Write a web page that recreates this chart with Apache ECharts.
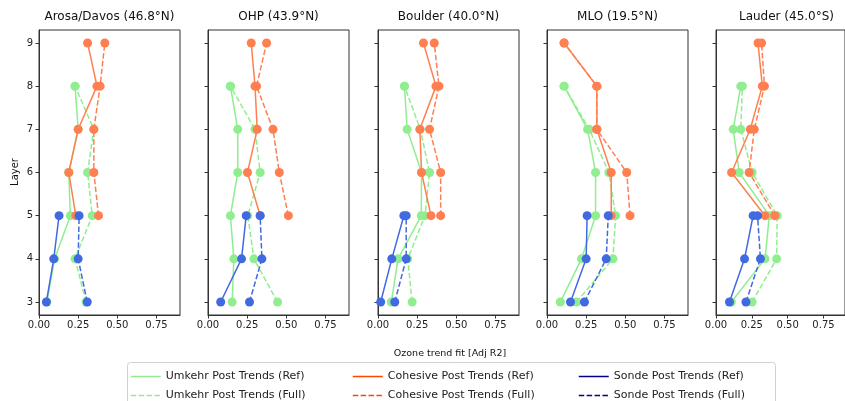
<!DOCTYPE html>
<html><head><meta charset="utf-8">
<script src="https://cdn.jsdelivr.net/npm/echarts@6/dist/echarts.min.js"></script>
<style>html,body{margin:0;padding:0;background:#fff}#c{width:845px;height:401px}</style>
</head><body><div id="c"></div>
<script>
const stations = ["Arosa/Davos (46.8°N)", "OHP (43.9°N)", "Boulder (40.0°N)", "MLO (19.5°N)", "Lauder (45.0°S)"];
const umkLayers = [3, 4, 5, 6, 7, 8];
const cohLayers = [5, 6, 7, 8, 9];
const sonLayers = [3, 4, 5];
const xTicks = [0, 0.25, 0.5, 0.75];
const yTicks = [3, 4, 5, 6, 7, 8, 9];

const umkRef = [
  [0.05, 0.10, 0.20, 0.19, 0.25, 0.23],
  [0.154, 0.165, 0.143, 0.19, 0.19, 0.143],
  [0.085, 0.128, 0.276, 0.278, 0.186, 0.169],
  [0.085, 0.22, 0.31, 0.31, 0.259, 0.109],
  [0.107, 0.342, 0.372, 0.162, 0.12, 0.173]
];
const umkFull = [
  [0.30, 0.23, 0.34, 0.31, 0.35, 0.23],
  [0.444, 0.293, 0.254, 0.333, 0.30, 0.143],
  [0.218, 0.19, 0.30, 0.329, 0.27, 0.169],
  [0.188, 0.421, 0.438, 0.395, 0.27, 0.109],
  [0.252, 0.423, 0.427, 0.252, 0.173, 0.184]
];
const cohRef = [
  [0.235, 0.19, 0.25, 0.37, 0.31],
  [0.333, 0.252, 0.314, 0.30, 0.276],
  [0.338, 0.278, 0.267, 0.37, 0.29],
  [0.41, 0.41, 0.318, 0.318, 0.109],
  [0.342, 0.109, 0.239, 0.323, 0.293]
];
const cohFull = [
  [0.38, 0.35, 0.35, 0.39, 0.42],
  [0.513, 0.455, 0.415, 0.31, 0.374],
  [0.40, 0.40, 0.329, 0.389, 0.359],
  [0.53, 0.509, 0.318, 0.318, 0.109],
  [0.41, 0.231, 0.267, 0.338, 0.318]
];
const sonRef = [
  [0.047, 0.094, 0.128],
  [0.081, 0.214, 0.244],
  [0.017, 0.088, 0.165],
  [0.15, 0.25, 0.256],
  [0.094, 0.199, 0.259]
];
const sonFull = [
  [0.308, 0.25, 0.256],
  [0.265, 0.344, 0.333],
  [0.107, 0.18, 0.18],
  [0.239, 0.378, 0.391],
  [0.209, 0.31, 0.29]
];
const seriesNames = ["Umkehr Post Trends (Ref)", "Umkehr Post Trends (Full)", "Cohesive Post Trends (Ref)", "Cohesive Post Trends (Full)", "Sonde Post Trends (Ref)", "Sonde Post Trends (Full)"];

const FONT = "DejaVu Sans";
const gridLefts = [39, 208, 378, 547, 716];
const GW = 141, GT = 30, GH = 285;
const plotColors = ["#90EE90", "#90EE90", "#FF7F50", "#FF7F50", "#4169E1", "#4169E1"];
const legendColors = ["#90EE90", "#90EE90", "#FF4500", "#FF4500", "#00008B", "#00008B"];

const grids = [], xAxes = [], yAxes = [], series = [], graphics = [];
stations.forEach((st, i) => {
  grids.push({left: gridLefts[i], top: GT, width: GW, height: GH, show: true, borderColor: "#333", borderWidth: 1, backgroundColor: "transparent"});
  xAxes.push({type: "value", gridIndex: i, min: 0, max: 0.9,
    axisLine: {show: true, onZero: false, lineStyle: {color: "#333"}},
    axisTick: {show: true, length: 3.5, lineStyle: {color: "#333"}, customValues: xTicks},
    axisLabel: {color: "#222", fontFamily: FONT, fontSize: 10, margin: 5, customValues: xTicks,
      formatter: v => v.toFixed(2)},
    splitLine: {show: false}});
  yAxes.push({type: "value", gridIndex: i, min: 2.7, max: 9.3,
    axisLine: {show: true, onZero: false, lineStyle: {color: "#333"}},
    axisTick: {show: true, length: 3.5, lineStyle: {color: "#333"}, customValues: yTicks},
    axisLabel: {show: i === 0, color: "#222", fontFamily: FONT, fontSize: 10, margin: 6, customValues: yTicks},
    splitLine: {show: false}});
  graphics.push({type: "text", x: gridLefts[i] + GW / 2, y: 17,
    style: {text: st, font: "12px " + FONT, fill: "#111", textAlign: "center", textVerticalAlign: "middle"}});
  const sets = [
    [umkLayers, umkRef[i]], [umkLayers, umkFull[i]],
    [cohLayers, cohRef[i]], [cohLayers, cohFull[i]],
    [sonLayers, sonRef[i]], [sonLayers, sonFull[i]]
  ];
  sets.forEach((s, k) => {
    series.push({
      type: "line", name: seriesNames[k], xAxisIndex: i, yAxisIndex: i,
      data: s[0].map((ly, j) => [s[1][j], ly]),
      symbol: "circle", symbolSize: 9, showSymbol: true,
      itemStyle: {color: plotColors[k]},
      lineStyle: {color: plotColors[k], width: 1.5, type: k % 2 ? [5.5, 2.4] : "solid"},
      emphasis: {disabled: true}, animation: false, z: 2 + k
    });
  });
});

graphics.push({type: "text", x: 15, y: 172, rotation: Math.PI / 2,
  style: {text: "Layer", font: "10px " + FONT, fill: "#111", textAlign: "center", textVerticalAlign: "middle"}});
graphics.push({type: "text", x: 450, y: 354,
  style: {text: "Ozone trend fit [Adj R2]", font: "9.5px " + FONT, fill: "#111", textAlign: "center", textVerticalAlign: "middle"}});
graphics.push({type: "rect", shape: {x: 127.5, y: 362.5, width: 648, height: 50, r: 3},
  style: {fill: "#fff", stroke: "#d0d0d0", lineWidth: 1}, z: 0});

const legendLefts = [130, 352, 578];
const legends = legendLefts.map((lx, c) => ({
  orient: "vertical", left: lx, top: 371, height: 30, padding: 0,
  itemWidth: 30, itemHeight: 10, itemGap: 8,
  selectedMode: false,
  textStyle: {fontFamily: FONT, fontSize: 11, color: "#222"},
  data: [0, 1].map(r => {
    const k = c * 2 + r;
    return {name: seriesNames[k],
      itemStyle: {color: "rgba(0,0,0,0)", opacity: 0, borderWidth: 0},
      lineStyle: {color: legendColors[k], width: 1.5, type: r ? [5.5, 2.4] : "solid"}};
  })
}));

const chart = echarts.init(document.getElementById("c"));
chart.setOption({animation: false, grid: grids, xAxis: xAxes, yAxis: yAxes, series, legend: legends, graphic: graphics});
</script></body></html>
